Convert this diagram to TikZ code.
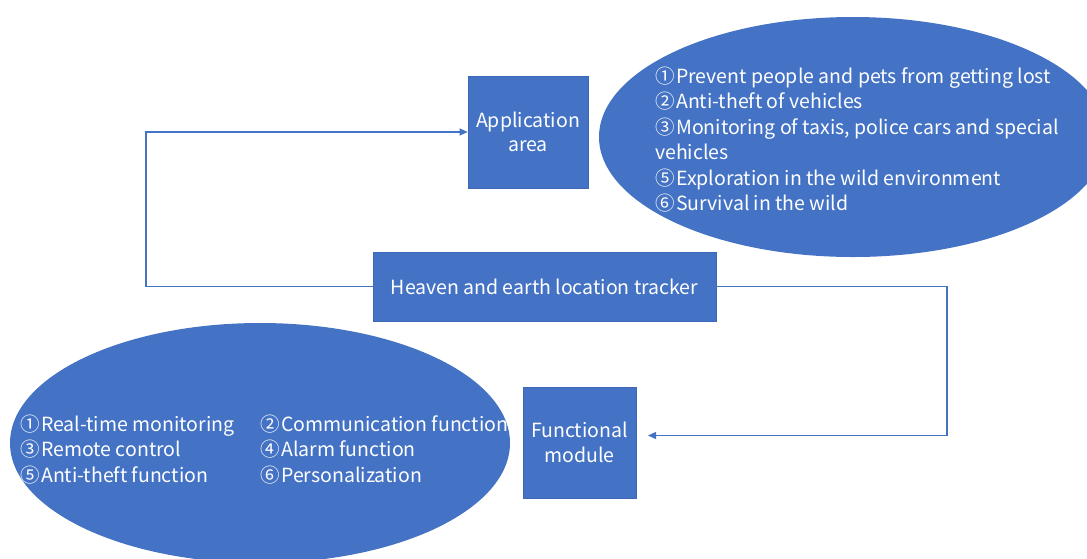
\documentclass[tikz,border=0pt]{standalone}
\usepackage{fontspec}
\setmainfont{Noto Sans CJK SC}
\usetikzlibrary{arrows.meta,shapes.geometric}
\definecolor{boxblue}{HTML}{4472C4}
\definecolor{edgeblue}{HTML}{3D68B6}
% circled item numbers take a fixed width
\newcommand\cnum[1]{\makebox[21pt][l]{#1}}
\begin{document}
\begin{tikzpicture}[x=1pt,y=-1pt,
  box/.style={draw=edgeblue,line width=0.7pt,fill=boxblue,text=white,
    align=center,inner sep=0pt,font=\fontsize{19.5}{24.5}\selectfont},
  blob/.style={ellipse,fill=boxblue,draw=none,inner sep=0pt},
  itemtext/.style={anchor=base west,inner sep=0pt,text=white,
    font=\fontsize{19.5}{25.5}\selectfont},
  conn/.style={draw=boxblue,line width=1.2pt},
  arr/.style={conn,-{Triangle[length=8pt,width=7pt]}}]
\useasboundingbox (0,0) rectangle (1087,558);
\clip (0,0) rectangle (1087,558);

% ellipses behind the item lists
\node[blob,minimum width=508pt,minimum height=240pt] (usesblob) at (853,137) {};
\node[blob,minimum width=500pt,minimum height=240pt] (funcblob) at (260,443) {};

% boxes
\node[box,minimum width=120pt,minimum height=112pt] (app) at (528,132)
  {Application\\area};
\node[box,minimum width=343pt,minimum height=69pt] (tracker) at (544.5,286.5)
  {Heaven and earth location tracker};
\node[box,minimum width=113pt,minimum height=111pt] (fm) at (579.5,442.5)
  {Functional\\module};

% list of application areas
\foreach \t [count=\i] in {\cnum{①}Prevent people and pets from getting lost,
    \cnum{②}Anti-theft of vehicles,
    {\cnum{③}Monitoring of taxis, police cars and special},
    vehicles,
    \cnum{⑤}Exploration in the wild environment,
    \cnum{⑥}Survival in the wild}
  \node[itemtext] (use\i) at (655,{83+25.5*(\i-1)}) {\t};

% list of functions, two columns
\foreach \t [count=\i] in {\cnum{①}Real-time monitoring,\cnum{③}Remote control,\cnum{⑤}Anti-theft function}
  \node[itemtext] (fl\i) at (20,{431+25.5*(\i-1)}) {\t};
\foreach \t [count=\i] in {\cnum{②}Communication function,\cnum{④}Alarm function,\cnum{⑥}Personalization}
  \node[itemtext] (fr\i) at (260,{431+25.5*(\i-1)}) {\t};

% connectors
\coordinate (lc) at (146,286.5);
\coordinate (rc) at (947,286.5);
\coordinate (fmin) at (648,435.5);
\draw[arr] (tracker.west) -- (lc) |- (app.west);
\draw[arr] (tracker.east) -- (rc) |- (fmin);
\end{tikzpicture}
\end{document}
